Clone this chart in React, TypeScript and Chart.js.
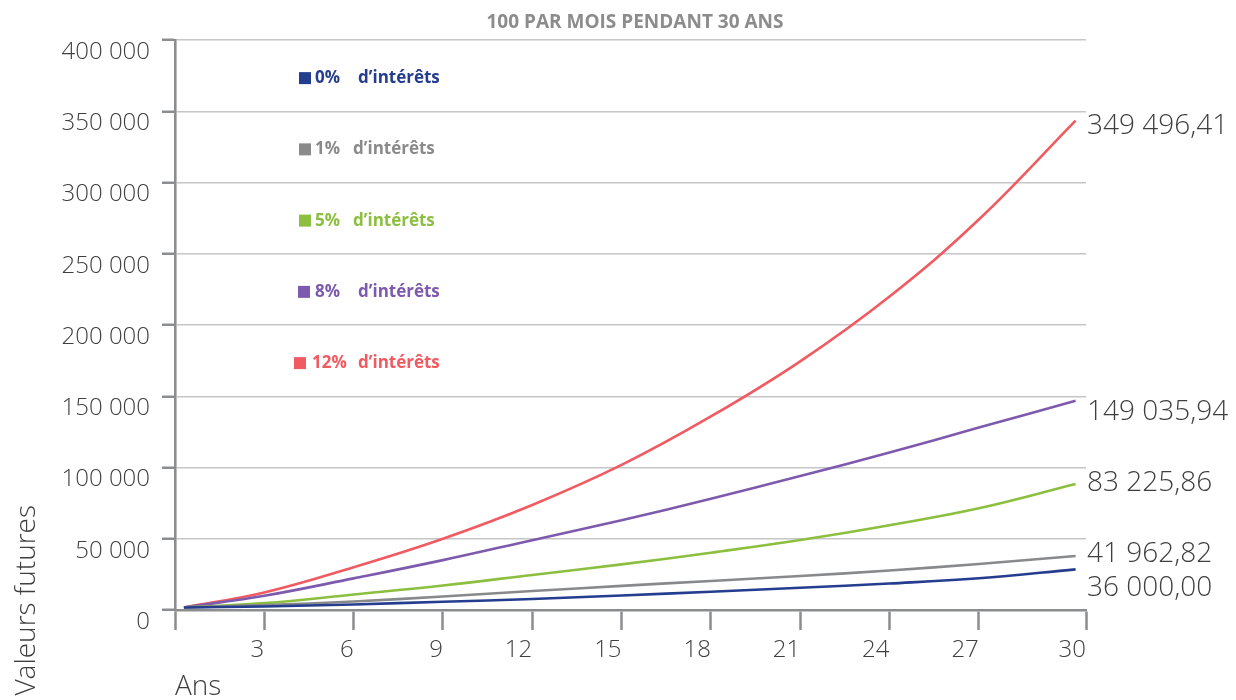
import React, { useEffect, useRef } from "react";
import { Chart, registerables } from "chart.js";

Chart.register(...registerables);

// ---- data ----
const CHART_TITLE = "100 PAR MOIS PENDANT 30 ANS";
const X_TITLE = "Ans";
const Y_TITLE = "Valeurs futures";
const YEARS = [0.3, 3, 6, 9, 12, 15, 18, 21, 24, 27, 30.25];
const X_TICK_VALUES = [0, 3, 6, 9, 12, 15, 18, 21, 24, 27, 30.6];
const X_TICK_LABELS = ["", "3", "6", "9", "12", "15", "18", "21", "24", "27", "30"];
const SERIES_NAMES = ["0%", "1%", "5%", "8%", "12%"];
const LEGEND_SUFFIX = "d\u2019intérêts";
const VALUES_0 = [1800, 2500, 3900, 5800, 7700, 10200, 12800, 15600, 18600, 22300, 28500];
const VALUES_1 = [1800, 3400, 6000, 9500, 13300, 16900, 20400, 23900, 27700, 32300, 37900];
const VALUES_5 = [1800, 4800, 10900, 17200, 24600, 32000, 40200, 49100, 59500, 71400, 88400];
const VALUES_8 = [1800, 10000, 22200, 35000, 49000, 63000, 78000, 94000, 110500, 128000, 146900];
const VALUES_12 = [1800, 12300, 30000, 50000, 73700, 101800, 135800, 174500, 220000, 274000, 343400];
const END_LABELS = ["36 000,00", "41 962,82", "83 225,86", "149 035,94", "349 496,41"];

// ---- styles ----
const COLORS = ["#253d8e", "#87898b", "#8cbf3f", "#7d5aae", "#f05a61"];
const LEGEND_COLORS = ["#253d8e", "#8a8a8a", "#8cbf3f", "#7d5aae", "#f05a61"];
const FONT = "'Open Sans', 'DejaVu Sans', sans-serif";
const AXIS_GRAY = "#8b8d8e";
const GRID_GRAY = "#c6c6c6";
const TEXT_DARK = "#3f3f3f";

const fmt = (v: number) => String(v).replace(/\B(?=(\d{3})+(?!\d))/g, " ");

const textPlugin = {
  id: "customText",
  afterDraw(chart: any) {
    const { ctx, chartArea, scales } = chart;
    const ys = scales.y;
    ctx.save();
    // title
    ctx.font = `700 19px ${FONT}`;
    ctx.fillStyle = "#8c8c8c";
    ctx.textAlign = "center";
    ctx.textBaseline = "alphabetic";
    ctx.fillText(CHART_TITLE, 635, 28);

    // legend
    const legendLayout = [
      { sq: 124, num: 140, word: 183 },
      { sq: 124, num: 140, word: 178 },
      { sq: 124, num: 140, word: 178 },
      { sq: 123, num: 140, word: 183 },
      { sq: 119, num: 137, word: 183 },
    ];
    ctx.font = `700 17px ${FONT}`;
    ctx.textAlign = "left";
    SERIES_NAMES.forEach((name, i) => {
      const gTop = ys.getPixelForValue(ys.max - i * 50000);
      const gBot = ys.getPixelForValue(ys.max - (i + 1) * 50000);
      const base = (gTop + gBot) / 2 + 7.5;
      const L = legendLayout[i];
      ctx.fillStyle = LEGEND_COLORS[i];
      ctx.fillRect(chartArea.left + L.sq, base - 11, 12, 12);
      ctx.fillText(name, chartArea.left + L.num, base);
      ctx.fillText(LEGEND_SUFFIX, chartArea.left + L.word, base);
    });

    // end labels
    const dy = [27, 6, 7, 19, 13];
    ctx.font = `300 28px ${FONT}`;
    ctx.fillStyle = TEXT_DARK;
    ctx.textAlign = "left";
    chart.data.datasets.forEach((ds: any, i: number) => {
      const meta = chart.getDatasetMeta(i);
      const last = meta.data[meta.data.length - 1];
      ctx.fillText(END_LABELS[i], chartArea.right + 1, last.y + dy[i]);
    });

    // axis titles
    ctx.font = `300 28px ${FONT}`;
    ctx.fillText(X_TITLE, chartArea.left, 695);
    ctx.save();
    ctx.translate(35, 505);
    ctx.rotate(-Math.PI / 2);
    ctx.textAlign = "right";
    ctx.fillText(Y_TITLE, 0, 0);
    ctx.restore();
    ctx.restore();
  },
};

export default function App() {
  const ref = useRef<HTMLCanvasElement | null>(null);
  useEffect(() => {
    document.body.style.margin = "0";
    const all = [VALUES_0, VALUES_1, VALUES_5, VALUES_8, VALUES_12];
    const chart = new Chart(ref.current as HTMLCanvasElement, {
      type: "line",
      data: {
        datasets: all.map((vals, i) => ({
          label: SERIES_NAMES[i],
          data: vals.map((v, j) => ({ x: YEARS[j], y: v })),
          borderColor: COLORS[i],
          borderWidth: 2.6,
          pointRadius: 0,
          fill: false,
          tension: 0.4,
        })),
      },
      options: {
        animation: false,
        responsive: false,
        layout: { padding: { top: 40, right: 150, left: 0, bottom: 0 } },
        plugins: { legend: { display: false }, tooltip: { enabled: false }, title: { display: false } },
        scales: {
          x: {
            type: "linear",
            min: 0,
            max: 30.6,
            afterFit: (s: any) => { s.height = 90; },
            afterBuildTicks: (s: any) => { s.ticks = X_TICK_VALUES.map((v) => ({ value: v })); },
            ticks: {
              callback: (_v: any, i: number) => X_TICK_LABELS[i],
              align: "end",
              padding: 6,
              color: TEXT_DARK,
              font: { family: FONT, size: 24, weight: 300 },
              maxRotation: 0,
              autoSkip: false,
            },
            grid: {
              drawOnChartArea: false,
              drawTicks: true,
              tickLength: 20,
              tickColor: AXIS_GRAY,
              tickWidth: 2.5,
            },
            border: { color: AXIS_GRAY, width: 2.6 },
          },
          y: {
            min: 0,
            max: 400000,
            afterFit: (s: any) => { s.width = 175; },
            ticks: {
              stepSize: 50000,
              callback: (v: any) => fmt(Number(v)),
              padding: 12,
              labelOffset: 12,
              color: TEXT_DARK,
              font: { family: FONT, size: 24, weight: 300 },
            },
            grid: {
              color: GRID_GRAY,
              lineWidth: 1.5,
              tickLength: 13,
              tickColor: AXIS_GRAY,
              tickWidth: 2.5,
            },
            border: { color: AXIS_GRAY, width: 2.6 },
          },
        },
      },
      plugins: [textPlugin],
    } as any);
    return () => chart.destroy();
  }, []);
  return (
    <div style={{ width: 1236, height: 700, background: "#fff" }}>
      <canvas ref={ref} width={1236} height={700} />
    </div>
  );
}
